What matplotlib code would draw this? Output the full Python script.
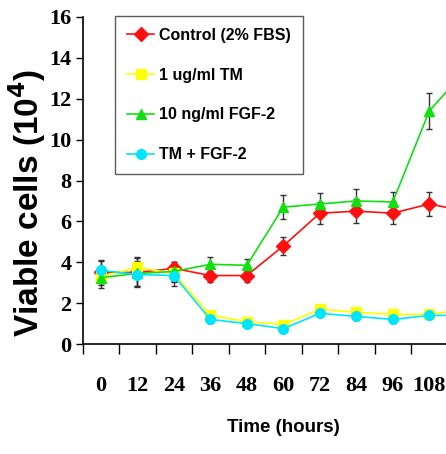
import matplotlib
matplotlib.use("Agg")
import matplotlib.pyplot as plt
import numpy as np

# Time points (hours); the last one lies just past the cropped right edge
hours = [0, 12, 24, 36, 48, 60, 72, 84, 96, 108, 120]

control = [3.5, 3.5, 3.7, 3.35, 3.35, 4.8, 6.4, 6.5, 6.4, 6.85, 6.5]
control_err = [0.6, 0.7, 0.3, 0.3, 0.3, 0.45, 0.55, 0.6, 0.55, 0.6, 0.6]

tm = [3.3, 3.75, 3.45, 1.4, 1.1, 0.95, 1.7, 1.55, 1.45, 1.45, 1.7]
tm_err = [0.3, 0.5, 0.4, 0.2, 0.15, 0.15, 0.15, 0.2, 0.15, 0.15, 0.2]

fgf = [3.25, 3.45, 3.55, 3.9, 3.85, 6.7, 6.85, 7.0, 6.95, 11.4, 13.4]
fgf_err = [0.5, 0.6, 0.45, 0.35, 0.3, 0.6, 0.55, 0.6, 0.5, 0.9, 0.9]

tm_fgf = [3.6, 3.4, 3.35, 1.2, 1.0, 0.75, 1.5, 1.35, 1.2, 1.4, 1.4]
tm_fgf_err = [0.45, 0.55, 0.5, 0.15, 0.15, 0.15, 0.15, 0.2, 0.15, 0.15, 0.15]

series = [
    ("Control (2% FBS)", control, control_err, "#ff1010", "D"),
    ("1 ug/ml TM", tm, tm_err, "#ffff00", "s"),
    ("10 ng/ml FGF-2", fgf, fgf_err, "#10e010", "^"),
    ("TM + FGF-2", tm_fgf, tm_fgf_err, "#00e5ff", "o"),
]

fig = plt.figure(figsize=(4.46, 4.54), dpi=100)

px_per_cat = 36.48
left_px, bottom_px, top_px = 82.7, 344, 17
xmax = -0.5 + (446 - left_px) / px_per_cat + 1.5
# axes run past the right edge of the figure (the source picture is cropped)
ax = fig.add_axes([left_px / 446, 1 - bottom_px / 454,
                   (xmax + 0.5) * px_per_cat / 446,
                   (bottom_px - top_px) / 454])

x = np.arange(len(hours))
handles = []
for label, vals, err, color, marker in series:
    ax.errorbar(x, vals, yerr=err, fmt="none", ecolor="#333333",
                elinewidth=1.0, capsize=2.5, capthick=1.0, zorder=2)
    h, = ax.plot(x, vals, color=color, marker=marker, markersize=7,
                 linewidth=1.2, label=label, zorder=3)
    handles.append(h)

ax.set_xlim(-0.5, xmax)
ax.set_ylim(0, 16)

serif = ["Liberation Serif", "DejaVu Serif"]
sans = ["Liberation Sans", "DejaVu Sans"]

ax.set_yticks(np.arange(0, 17, 2))
ax.set_yticklabels([str(v) for v in range(0, 17, 2)], family=serif,
                   fontweight="bold", fontsize=16)
ax.tick_params(axis="y", direction="out", length=5, width=1, pad=3)

# only the labels that fit inside the cropped picture
shown = x[:10]
ax.set_xticks(shown)
ax.set_xticklabels([str(hours[i]) for i in shown], family=serif,
                   fontweight="bold", fontsize=16)
ax.tick_params(axis="x", which="major", length=0, pad=23)
ax.set_xticks(np.arange(-0.5, len(hours), 1), minor=True)
ax.tick_params(axis="x", which="minor", direction="out", length=7, width=1)

for side in ["top", "right"]:
    ax.spines[side].set_visible(False)
ax.spines["left"].set_linewidth(1.2)
ax.spines["bottom"].set_linewidth(1.2)

fig.text(27 / 446, 1 - 203 / 454, r"Viable cells (10$^{\mathbf{4}}$)",
         rotation=90, ha="center", va="center", fontsize=24,
         fontweight="bold", family=sans)
fig.text(283 / 446, 1 - 428 / 454, "Time (hours)", ha="center",
         va="center", fontsize=13.5, fontweight="bold", family=sans)

leg = ax.legend(handles=handles, loc="upper left",
                bbox_to_anchor=(115 / 446, 1 - 16 / 454),
                bbox_transform=fig.transFigure,
                prop={"family": sans, "weight": "bold", "size": 11.5},
                frameon=True, fancybox=False, edgecolor="#333333",
                handlelength=1.7, handletextpad=0.3, labelspacing=1.55,
                borderpad=0.75, borderaxespad=0)
leg.get_frame().set_linewidth(1.0)

fig.savefig("out.png", dpi=100)
